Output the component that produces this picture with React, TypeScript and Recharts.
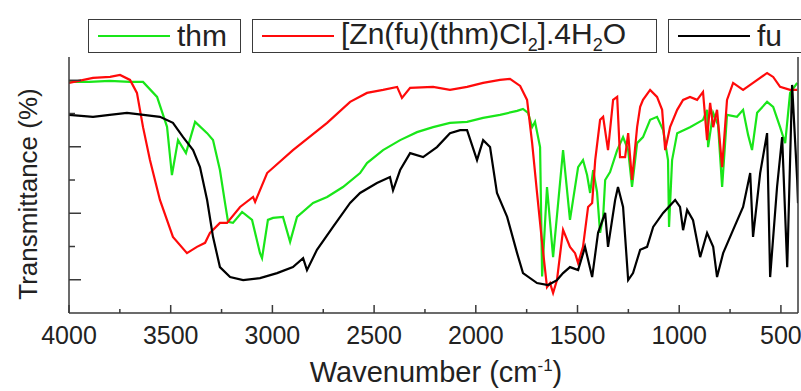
import { LineChart, Line, XAxis, YAxis } from 'recharts'

// wavenumber (cm-1) and transmittance
const thmWave = [
  4000, 3900, 3800, 3700, 3636, 3567, 3518, 3494, 3464, 3425,
  3380, 3321, 3292, 3258, 3233, 3218, 3194, 3149, 3100, 3061,
  3051, 3022, 2997, 2948, 2913, 2879, 2800, 2731, 2653, 2569,
  2535, 2456, 2372, 2289, 2210, 2127, 2043, 1964, 1881, 1797,
  1768, 1743, 1723, 1709, 1684, 1674, 1650, 1620, 1571, 1537,
  1497, 1473, 1453, 1438, 1423, 1404, 1389, 1374, 1364, 1340,
  1305, 1276, 1251, 1232, 1207, 1178, 1143, 1109, 1079, 1055,
  1050, 1035, 1010, 947, 883, 863, 858, 833, 809, 789,
  765, 716, 686, 661, 642, 617, 568, 538, 504, 479,
  455, 420,
]
const thmT = [
  69.5, 69.5, 69.8, 69.5, 69.5, 65.0, 56.0, 41.5, 52.0, 48.1,
  57.5, 54.1, 52.0, 43.0, 33.1, 27.4, 27.1, 30.4, 28.0, 18.0,
  16.5, 28.0, 28.6, 28.9, 21.4, 28.9, 33.1, 34.9, 37.9, 42.1,
  45.1, 49.0, 52.0, 54.4, 55.9, 57.2, 57.5, 58.7, 59.6, 60.8,
  61.4, 60.2, 55.9, 57.5, 49.9, 11.0, 37.9, 16.8, 49.0, 28.0,
  43.9, 46.0, 41.5, 36.1, 43.0, 36.4, 24.1, 28.9, 40.0, 42.4,
  49.0, 52.9, 49.0, 37.9, 51.1, 52.9, 58.1, 59.0, 55.0, 46.0,
  25.9, 46.0, 54.1, 55.9, 58.1, 61.1, 49.9, 60.2, 56.6, 37.9,
  59.6, 59.0, 61.1, 53.5, 49.0, 60.2, 63.5, 62.0, 55.9, 51.1,
  66.2, 69.2,
]

const znWave = [
  4000, 3882, 3798, 3749, 3700, 3666, 3636, 3602, 3553, 3489,
  3420, 3371, 3331, 3307, 3258, 3223, 3159, 3095, 3085, 3026,
  2899, 2731, 2618, 2535, 2456, 2387, 2363, 2323, 2210, 2127,
  2043, 1964, 1881, 1832, 1782, 1748, 1723, 1699, 1674, 1650,
  1635, 1620, 1601, 1571, 1537, 1512, 1497, 1473, 1448, 1428,
  1413, 1389, 1374, 1350, 1325, 1305, 1291, 1266, 1251, 1232,
  1207, 1192, 1178, 1143, 1109, 1084, 1069, 1045, 1010, 981,
  947, 912, 883, 863, 848, 833, 814, 789, 765, 735,
  686, 637, 568, 538, 504, 455, 420,
]
const znT = [
  69.2, 70.7, 71.0, 71.6, 70.1, 66.2, 55.9, 46.0, 34.0, 22.9,
  18.0, 19.9, 21.1, 24.1, 27.1, 27.1, 31.9, 34.9, 33.4, 42.1,
  49.0, 57.2, 63.5, 66.2, 67.1, 68.0, 64.7, 67.7, 68.0, 67.1,
  68.0, 69.2, 70.1, 70.4, 68.3, 64.1, 51.1, 36.1, 21.1, 7.8,
  9.0, 6.0, 9.9, 25.0, 19.9, 18.0, 15.0, 19.9, 31.9, 33.1,
  46.0, 58.1, 59.0, 49.0, 64.1, 65.0, 46.9, 46.9, 54.1, 40.0,
  55.9, 62.0, 64.1, 67.1, 65.0, 61.1, 49.0, 55.9, 61.1, 64.1,
  65.0, 64.1, 66.5, 52.0, 63.2, 55.9, 61.1, 43.9, 64.1, 69.2,
  67.1, 69.2, 72.2, 71.0, 68.0, 67.1, 67.1,
]

const fuWave = [
  4000, 3882, 3800, 3715, 3553, 3489, 3439, 3390, 3356, 3321,
  3292, 3258, 3208, 3144, 3061, 2977, 2899, 2849, 2830, 2781,
  2702, 2618, 2569, 2486, 2422, 2407, 2372, 2323, 2259, 2191,
  2127, 2077, 2043, 1994, 1964, 1930, 1896, 1846, 1797, 1768,
  1699, 1645, 1601, 1571, 1537, 1497, 1463, 1428, 1399, 1364,
  1350, 1315, 1301, 1276, 1251, 1227, 1192, 1158, 1128, 1079,
  1020, 996, 981, 961, 932, 897, 863, 833, 814, 784,
  735, 686, 651, 637, 602, 568, 553, 519, 494, 469,
  445, 420, 416,
]
const fuT = [
  59.6, 59.0, 59.6, 60.2, 59.0, 57.2, 52.9, 49.0, 43.9, 34.0,
  22.9, 13.8, 10.8, 9.9, 10.5, 12.0, 13.8, 16.5, 12.9, 19.0,
  25.9, 33.1, 36.1, 39.1, 40.9, 36.9, 43.0, 48.1, 46.9, 49.9,
  54.1, 55.0, 55.0, 46.0, 52.0, 49.9, 36.1, 28.9, 18.0, 12.0,
  9.0, 8.4, 9.9, 12.0, 13.8, 12.9, 19.9, 10.8, 24.1, 30.1,
  19.9, 34.0, 37.9, 31.9, 9.9, 12.0, 19.0, 19.9, 25.9, 30.1,
  34.0, 31.9, 24.9, 31.0, 27.9, 16.8, 24.1, 19.9, 10.8, 18.0,
  25.0, 31.9, 42.1, 22.9, 42.1, 54.1, 10.8, 37.9, 52.9, 13.8,
  68.6, 40.0, 33.0,
]

const xTicks = [4000, 3750, 3500, 3250, 3000, 2750, 2500, 2250, 2000, 1750, 1500, 1250, 1000, 750, 500]
const yTicks = [10, 20, 30, 40, 50, 60, 70]

const toPoints = (wave: number[], t: number[]) => wave.map((w, i) => ({ w, t: t[i] }))

const AXIS = '#3a3a3a'
const FONT = '"Liberation Sans", Arial, sans-serif'

function XTick({ x, y, payload }: any) {
  const major = payload.value % 500 === 0
  return (
    <g>
      <line x1={x} x2={x} y1={y} y2={y - (major ? 8 : 4)} stroke={AXIS} strokeWidth={1.5} />
      {major && (
        <text x={x} y={y + 31} textAnchor="middle" fontSize={25} fontFamily={FONT} fill="#222">
          {payload.value}
        </text>
      )}
    </g>
  )
}

function YTickLeft({ x, y, payload }: any) {
  const major = payload.value % 20 === 10
  return <line x1={x} x2={x + (major ? 12 : 6)} y1={y} y2={y} stroke={AXIS} strokeWidth={1.5} />
}

function YTickRight({ x, y, payload }: any) {
  const major = payload.value % 20 === 10
  return <line x1={x} x2={x - (major ? 12 : 6)} y1={y} y2={y} stroke={AXIS} strokeWidth={1.5} />
}

function LegendBox({ left, width, color, children }: any) {
  return (
    <div
      style={{
        position: 'absolute', left, top: 19, width, height: 34,
        border: `1.5px solid ${AXIS}`, boxSizing: 'border-box', background: '#fff',
        display: 'flex', alignItems: 'center', paddingLeft: 9, whiteSpace: 'nowrap',
      }}
    >
      <span style={{ width: 72, height: 2.5, background: color, marginRight: 7, flexShrink: 0 }} />
      <span style={{ fontSize: 30, fontFamily: FONT, color: '#222', lineHeight: 1 }}>{children}</span>
    </div>
  )
}

export default function App() {
  const thm = toPoints(thmWave, thmT)
  const zn = toPoints(znWave, znT)
  const fu = toPoints(fuWave, fuT)

  return (
    <div style={{ position: 'absolute', left: 0, top: 0, width: 801, height: 391, overflow: 'hidden', background: '#fff' }}>
      <LineChart width={801} height={391} margin={{ top: 57, right: 2, bottom: 48, left: 29 }}>
        <XAxis
          dataKey="w" type="number" domain={[416, 4000]} reversed allowDataOverflow
          ticks={xTicks} interval={0} tick={<XTick />} tickLine={false} tickSize={0} tickMargin={0}
          height={30} axisLine={{ stroke: AXIS, strokeWidth: 1.5 }}
        />
        <YAxis
          yAxisId="left" type="number" domain={[0, 77]} ticks={yTicks} interval={0}
          tick={<YTickLeft />} tickLine={false} tickSize={0} tickMargin={0} width={40}
          axisLine={{ stroke: AXIS, strokeWidth: 1.5 }}
        />
        <YAxis
          yAxisId="right" orientation="right" type="number" domain={[0, 77]} ticks={yTicks} interval={0}
          tick={<YTickRight />} tickLine={false} tickSize={0} tickMargin={0} width={1}
          axisLine={{ stroke: AXIS, strokeWidth: 1.5 }}
        />
        <Line yAxisId="left" data={thm} dataKey="t" type="linear" stroke="#19e619" strokeWidth={2.2} dot={false} isAnimationActive={false} />
        <Line yAxisId="left" data={zn} dataKey="t" type="linear" stroke="#ff0a0a" strokeWidth={2.2} dot={false} isAnimationActive={false} />
        <Line yAxisId="left" data={fu} dataKey="t" type="linear" stroke="#000" strokeWidth={2.2} dot={false} isAnimationActive={false} />
      </LineChart>

      <LegendBox left={88} width={153} color="#19e619">thm</LegendBox>
      <LegendBox left={252} width={405} color="#ff0a0a">
        [Zn(fu)(thm)Cl<sub style={{ fontSize: 18 }}>2</sub>].4H<sub style={{ fontSize: 18 }}>2</sub>O
      </LegendBox>
      <LegendBox left={668} width={150} color="#000">fu</LegendBox>

      <div
        style={{
          position: 'absolute', left: 28, top: 194, transform: 'translate(-50%, -50%) rotate(-90deg)',
          whiteSpace: 'nowrap', fontSize: 26, fontFamily: FONT, color: '#222',
        }}
      >
        Transmittance (%)
      </div>
      <div
        style={{
          position: 'absolute', left: 436, top: 372, transform: 'translate(-50%, -50%)',
          whiteSpace: 'nowrap', fontSize: 29, lineHeight: 1, fontFamily: FONT, color: '#222',
        }}
      >
        Wavenumber (cm<sup style={{ fontSize: 17, lineHeight: 0 }}>-1</sup>)
      </div>
    </div>
  )
}
